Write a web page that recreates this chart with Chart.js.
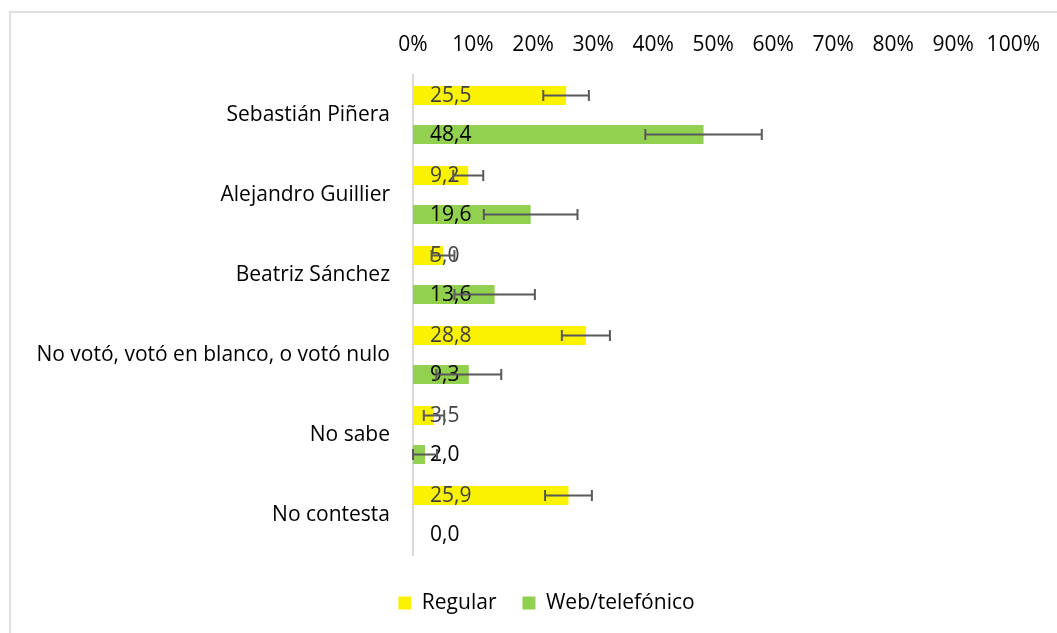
<!DOCTYPE html>
<html>
<head>
<meta charset="utf-8">
<script src="https://cdn.jsdelivr.net/npm/chart.js@4/dist/chart.umd.min.js"></script>
<style>
  html, body { margin: 0; padding: 0; background: #ffffff; overflow: hidden; }
  #frame { position: absolute; left: 9px; top: 11px; width: 1200px; height: 800px;
           border-left: 2px solid #e0e0e0; border-top: 2px solid #e0e0e0; box-sizing: border-box; }
  #wrap { position: absolute; left: 0; top: 0; width: 1057px; height: 633px; }
</style>
</head>
<body>
<div id="frame"></div>
<div id="wrap"><canvas id="c" width="1057" height="633"></canvas></div>
<script>
const categories = ['Sebastián Piñera', 'Alejandro Guillier', 'Beatriz Sánchez',
  'No votó, votó en blanco, o votó nulo', 'No sabe', 'No contesta'];
const seriesNames = ['Regular', 'Web/telefónico'];
const regular = [25.5, 9.2, 5.0, 28.8, 3.5, 25.9];
const web = [48.4, 19.6, 13.6, 9.3, 2.0, 0.0];
const regularErr = [3.8, 2.5, 1.9, 4.0, 1.7, 3.9];
const webErr = [9.7, 7.8, 6.7, 5.4, 2.0, 0];
const tickValues = [0, 10, 20, 30, 40, 50, 60, 70, 80, 90, 100];

const FONT = '"Open Sans", sans-serif';
const errors = [regularErr, webErr];
const labelColors = ['#404040', '#000000'];

const overlay = {
  id: 'overlay',
  afterLayout(chart) {
    const l = chart.legend;
    if (l) { l.left += 39.5; l.right += 39.5; }
  },
  afterDatasetsDraw(chart) {
    const ctx = chart.ctx;
    const xs = chart.scales.x;
    ctx.save();
    ctx.font = '21px ' + FONT;
    ctx.textAlign = 'left';
    ctx.textBaseline = 'middle';
    chart.data.datasets.forEach((ds, di) => {
      const meta = chart.getDatasetMeta(di);
      meta.data.forEach((bar, i) => {
        ctx.fillStyle = labelColors[di];
        ctx.fillText(ds.data[i].toFixed(1).replace('.', ','), xs.getPixelForValue(0) + 17, bar.y + 1);
      });
    });
    ctx.strokeStyle = '#595959';
    ctx.lineWidth = 2;
    chart.data.datasets.forEach((ds, di) => {
      const meta = chart.getDatasetMeta(di);
      meta.data.forEach((bar, i) => {
        const e = errors[di][i];
        if (!e) return;
        const v = ds.data[i];
        const x1 = xs.getPixelForValue(v - e);
        const x2 = xs.getPixelForValue(v + e);
        const y = bar.y;
        ctx.beginPath();
        ctx.moveTo(x1, y); ctx.lineTo(x2, y);
        ctx.moveTo(x1, y - 5.5); ctx.lineTo(x1, y + 5.5);
        ctx.moveTo(x2, y - 5.5); ctx.lineTo(x2, y + 5.5);
        ctx.stroke();
      });
    });
    ctx.restore();
  }
};

new Chart(document.getElementById('c'), {
  type: 'bar',
  data: {
    labels: categories,
    datasets: [
      { label: seriesNames[0], data: regular, backgroundColor: '#FAF200', borderWidth: 0,
        categoryPercentage: 0.975, barPercentage: 0.49 },
      { label: seriesNames[1], data: web, backgroundColor: '#92D050', borderWidth: 0,
        categoryPercentage: 0.975, barPercentage: 0.49 }
    ]
  },
  options: {
    indexAxis: 'y',
    responsive: false,
    animation: false,
    devicePixelRatio: 1,
    layout: { padding: { left: 0, right: 43, top: 0, bottom: 9.5 } },
    scales: {
      x: {
        position: 'top',
        min: 0, max: 100,
        afterBuildTicks: (s) => { s.ticks = tickValues.map(v => ({ value: v })); },
        afterFit: (s) => { s.height = 75; },
        grid: { display: false, drawTicks: false },
        border: { display: false },
        ticks: {
          color: '#000000', padding: 17, maxRotation: 0, autoSkip: false,
          font: { family: FONT, size: 21 },
          callback: (v) => v + '%'
        }
      },
      y: {
        afterFit: (s) => { s.width = 413; },
        grid: { display: false, drawTicks: false },
        border: { display: true, color: '#d9d9d9', width: 2 },
        ticks: { color: '#000000', padding: 23, font: { family: FONT, size: 21 } }
      }
    },
    plugins: {
      legend: {
        position: 'bottom',
        title: { display: true, text: ' ', padding: 0, font: { size: 10, lineHeight: 1.15 } },
        labels: {
          boxWidth: 13, boxHeight: 13, padding: 26, color: '#000000',
          font: { family: FONT, size: 21 }
        }
      },
      tooltip: { enabled: false }
    }
  },
  plugins: [overlay]
});
</script>
</body>
</html>
